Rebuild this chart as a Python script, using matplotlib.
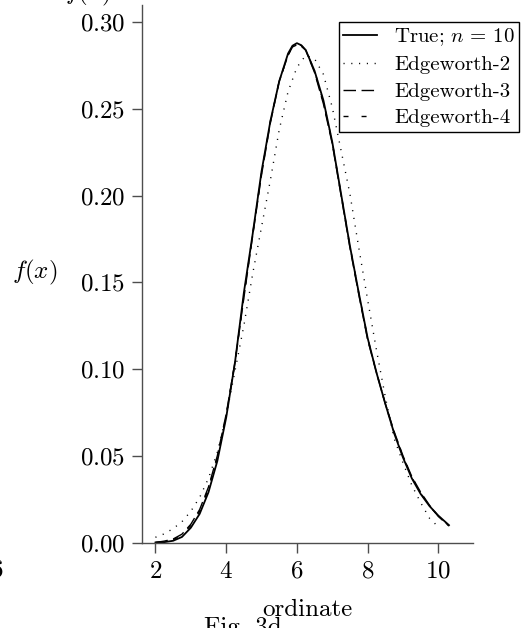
import matplotlib
matplotlib.use("Agg")
import matplotlib.pyplot as plt

plt.rcParams['font.family'] = ['cmr10', 'DejaVu Serif']
plt.rcParams['mathtext.fontset'] = 'cm'
plt.rcParams['axes.formatter.use_mathtext'] = True

# values
x_true = [2.0, 2.25, 2.5, 2.75, 3.0, 3.25, 3.5, 3.75, 4.0, 4.25, 4.5, 4.75,
          5.0, 5.25, 5.5, 5.75, 5.875, 6.0, 6.125, 6.25, 6.5, 6.75, 7.0, 7.25,
          7.5, 7.75, 8.0, 8.25, 8.5, 8.75, 9.0, 9.25, 9.5, 9.75, 10.0, 10.3]
y_true = [0.000, 0.0002, 0.0010, 0.0032, 0.0085, 0.0165, 0.029, 0.047, 0.072,
          0.104, 0.144, 0.178, 0.214, 0.243, 0.266, 0.282, 0.2865, 0.288,
          0.2868, 0.284, 0.272, 0.255, 0.231, 0.201, 0.171, 0.144, 0.118,
          0.098, 0.080, 0.063, 0.049, 0.037, 0.028, 0.021, 0.0155, 0.010]
y_edge3 = [0.000, 0.0008, 0.0020, 0.0048, 0.0105, 0.019, 0.032, 0.050, 0.074,
           0.104, 0.141, 0.177, 0.212, 0.242, 0.266, 0.281, 0.2858, 0.287,
           0.2862, 0.284, 0.271, 0.253, 0.230, 0.200, 0.170, 0.143, 0.117,
           0.098, 0.080, 0.064, 0.050, 0.038, 0.029, 0.0215, 0.015, 0.0095]
y_edge4 = [0.000, 0.0006, 0.0016, 0.0042, 0.0098, 0.018, 0.031, 0.049, 0.073,
           0.104, 0.142, 0.178, 0.213, 0.243, 0.266, 0.281, 0.2862, 0.2875,
           0.2866, 0.284, 0.272, 0.254, 0.231, 0.201, 0.171, 0.144, 0.118,
           0.098, 0.080, 0.0635, 0.0495, 0.0375, 0.0285, 0.021, 0.0152, 0.0098]

x_edge2 = [2.0, 2.25, 2.5, 2.75, 3.0, 3.25, 3.5, 3.75, 4.0, 4.25, 4.5, 4.75,
           5.0, 5.25, 5.5, 5.75, 6.0, 6.25, 6.5, 6.75, 7.0, 7.25, 7.5, 7.75,
           8.0, 8.25, 8.5, 8.75, 9.0, 9.25, 9.5, 9.75, 10.05]
y_edge2 = [0.003, 0.005, 0.008, 0.012, 0.018, 0.026, 0.037, 0.052, 0.073,
           0.099, 0.125, 0.155, 0.182, 0.209, 0.238, 0.260, 0.274, 0.281,
           0.279, 0.270, 0.251, 0.226, 0.201, 0.170, 0.140, 0.111, 0.084,
           0.060, 0.046, 0.033, 0.023, 0.014, 0.008]

labels = [r'True; $n\,=\,10$', 'Edgeworth-2', 'Edgeworth-3', 'Edgeworth-4']

fig = plt.figure(figsize=(5.21, 6.28), dpi=100)
ax = fig.add_axes([142/521, 1-542.5/628, 331/521, 537.5/628])

ax.plot(x_true, y_true, color='black', lw=1.3, label=labels[0])
ax.plot(x_edge2, y_edge2, color='black', lw=1.0, dashes=(0.8, 4.8), label=labels[1])
ax.plot(x_true, y_edge3, color='black', lw=1.0, dashes=(9, 4), label=labels[2])
ax.plot(x_true, y_edge4, color='black', lw=1.0, dashes=(3.6, 9.4), label=labels[3])

ax.set_xlim(1.62, 10.98)
ax.set_ylim(0, 0.31)
ax.set_xticks([2, 4, 6, 8, 10])
ax.set_yticks([0.0, 0.05, 0.10, 0.15, 0.20, 0.25, 0.30])
ax.yaxis.set_major_formatter(matplotlib.ticker.FormatStrFormatter(r'$%.2f$'))
ax.xaxis.set_major_formatter(matplotlib.ticker.FormatStrFormatter(r'$%d$'))

for s in ['top', 'right']:
    ax.spines[s].set_visible(False)
for s in ['left', 'bottom']:
    ax.spines[s].set_color('0.3')
    ax.spines[s].set_linewidth(1.0)
ax.tick_params(direction='out', length=7, width=1.0, color='0.3',
               labelsize=18, pad=5)
ax.tick_params(axis='x', pad=6)

ax.set_ylabel(r'$f(x)$', rotation=0, fontsize=18, va='center', ha='center')
ax.yaxis.set_label_coords(-0.325, 0.503)
ax.set_xlabel('ordinate', fontsize=18, va='top')
ax.xaxis.set_label_coords(0.5, -0.104)

leg = ax.legend(loc='upper right', bbox_to_anchor=(519/521, 1-22/628),
                bbox_transform=fig.transFigure, fontsize=15, frameon=True,
                fancybox=False, borderaxespad=0, borderpad=0.2,
                handlelength=1.65, handletextpad=0.8, labelspacing=0.38)
leg.get_frame().set_edgecolor('black')
leg.get_frame().set_linewidth(1.0)
leg.get_frame().set_alpha(1)

# pieces of neighbouring panels cut by the crop
fig.text(88/521, 1+1/628, r'$f(x)$', fontsize=18, ha='center', va='baseline')
fig.text(-3/521, 1-570/628, r'$6$', fontsize=18, ha='center', va='center')
fig.text(243/521, 1-634/628, 'Fig. 3d', fontsize=18, ha='center', va='baseline')

fig.savefig('out.png', dpi=100)
